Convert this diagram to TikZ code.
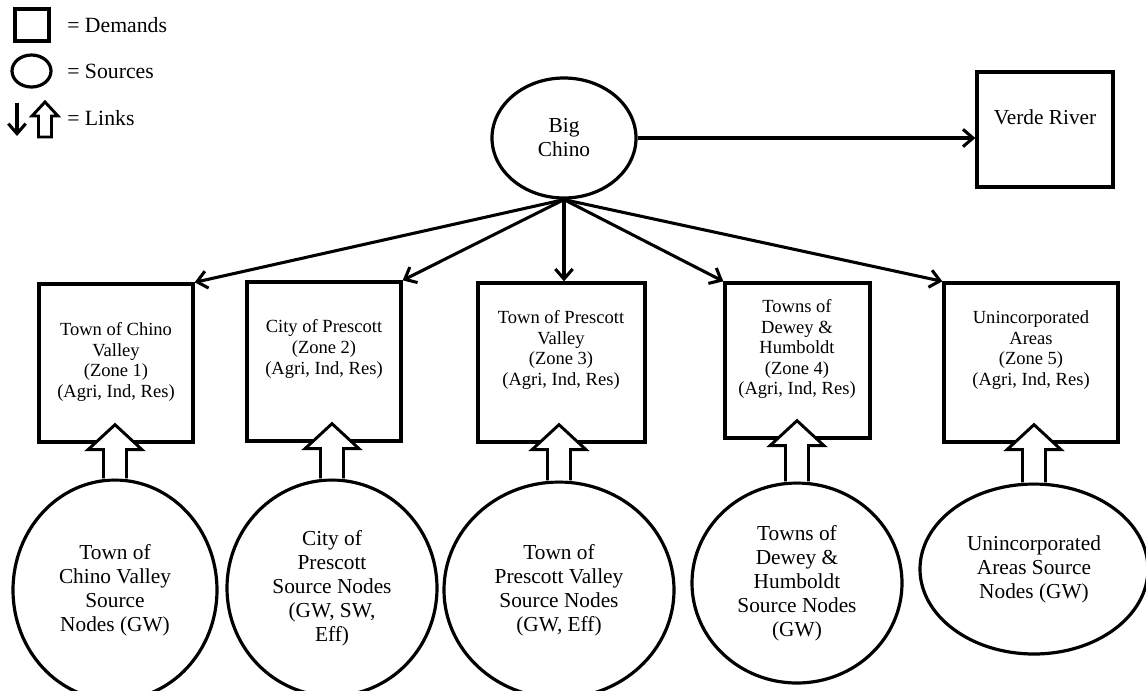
\documentclass[tikz,border=0pt]{standalone}
\usepackage{fontspec}
\setmainfont{Liberation Serif}
\usetikzlibrary{arrows.meta,calc,shapes.geometric}
\newdimen\pxu \pxu=0.75pt
\newcommand\bigtext{\fontsize{16}{18}\selectfont}
\newcommand\legtext{\fontsize{16.3}{18}\selectfont}
\newcommand\boxtext{\fontsize{13.9}{15.4}\selectfont}
% wide hollow arrow from a source ellipse up into a demand box
\newcommand\feedarrow[2]{%
  \draw[feedline] ($(#1.north)+(-11.5,0)$) -- ($(#1.north|-#2.south)+(-11.5,6)$)
    -- ++(-15.5,0) -- ($(#1.north|-#2.south)+(0,-19)$)
    -- ($(#1.north|-#2.south)+(27,6)$) -- ++(-15.5,0) -- ($(#1.north)+(11.5,0)$);}
\begin{document}
\begin{tikzpicture}[x=0.75pt,y=-0.75pt,
  demand/.style={draw, line width=2.5pt, rectangle, inner sep=0pt},
  source/.style={draw, line width=2.4pt, ellipse, inner sep=0pt, align=center, font=\bigtext},
  label/.style={inner sep=0pt, align=center, font=\boxtext},
  legendtext/.style={inner sep=0pt, anchor=west, font=\legtext},
  link/.style={line width=2.3pt, -{Straight Barb[length=7.5pt,width=13pt]}},
  feedline/.style={line width=2.2pt, fill=white, line join=miter}]
\path[use as bounding box, clip] (0,0) rectangle (1146,690);

% legend
\node[demand, minimum width=34\pxu, minimum height=32\pxu] (lgd) at (32,25) {};
\node[legendtext] (lgdt) at (67,25) {= Demands};
\node[source, minimum width=39\pxu, minimum height=32\pxu] (lgs) at (31.5,71) {};
\node[legendtext] (lgst) at (67,71) {= Sources};
\coordinate (la1) at (17,103);
\coordinate (la2) at (17,136);
\draw[link] (la1) -- (la2);
\coordinate (lb) at (45,137);
\draw[feedline] ($(lb)+(-6.5,0)$) -- ++(0,-21) -- ++(-6.5,0) -- ($(lb)+(0,-35)$)
  -- ($(lb)+(13,-21)$) -- ++(-6.5,0) -- ($(lb)+(6.5,0)$) -- cycle;
\node[legendtext] (lglt) at (67,118) {= Links};

% top level
\node[source, minimum width=144\pxu, minimum height=120\pxu] (bc) at (564,138) {Big\\Chino};
\node[demand, minimum width=136\pxu, minimum height=115\pxu] (vr) at (1045,129.5) {};
\node[label, font=\bigtext] (vrt) at (1045,117) {Verde River};

% demand zones
\node[demand, minimum width=154\pxu, minimum height=158\pxu] (d1) at (116,363) {};
\node[demand, minimum width=154\pxu, minimum height=159\pxu] (d2) at (324,361.5) {};
\node[demand, minimum width=167\pxu, minimum height=159\pxu] (d3) at (561.5,362.5) {};
\node[demand, minimum width=145\pxu, minimum height=155\pxu] (d4) at (797.5,360.5) {};
\node[demand, minimum width=174\pxu, minimum height=159\pxu] (d5) at (1031,362.5) {};
\node[label] (t1) at (116,362) {Town of Chino\\Valley\\(Zone 1)\\(Agri, Ind, Res)};
\node[label] (t2) at (324,349) {City of Prescott\\(Zone 2)\\(Agri, Ind, Res)};
\node[label] (t3) at (561,350) {Town of Prescott\\Valley\\(Zone 3)\\(Agri, Ind, Res)};
\node[label] (t4) at (797,349) {Towns of\\Dewey \&\\Humboldt\\(Zone 4)\\(Agri, Ind, Res)};
\node[label] (t5) at (1031,350) {Unincorporated\\Areas\\(Zone 5)\\(Agri, Ind, Res)};

% source nodes
\node[source, minimum width=204\pxu, minimum height=220\pxu] (s1) at (115,590)
  {Town of\\Chino Valley\\Source\\Nodes (GW)};
\node[source, minimum width=210\pxu, minimum height=216\pxu] (s2) at (332,588)
  {City of\\Prescott\\Source Nodes\\(GW, SW,\\Eff)};
\node[source, minimum width=230\pxu, minimum height=216\pxu] (s3) at (559,590)
  {Town of\\Prescott Valley\\Source Nodes\\(GW, Eff)};
\node[source, minimum width=210\pxu, minimum height=200\pxu] (s4) at (797,583)
  {Towns of\\Dewey \&\\Humboldt\\Source Nodes\\(GW)};
\node[source, minimum width=228\pxu, minimum height=170\pxu] (s5) at (1034,569)
  {Unincorporated\\Areas Source\\Nodes (GW)};

% supply links
\feedarrow{s1}{d1}
\feedarrow{s2}{d2}
\feedarrow{s3}{d3}
\feedarrow{s4}{d4}
\feedarrow{s5}{d5}

% Big Chino links
\draw[link] (bc.east) -- (bc.east -| vr.west);
\draw[link] (bc.south) -- (d1.north east);
\draw[link] (bc.south) -- (d2.north east);
\draw[link] (bc.south) -- (bc.south |- d3.north);
\draw[link] (bc.south) -- (d4.north west);
\draw[link] (bc.south) -- (d5.north west);
\end{tikzpicture}
\end{document}
